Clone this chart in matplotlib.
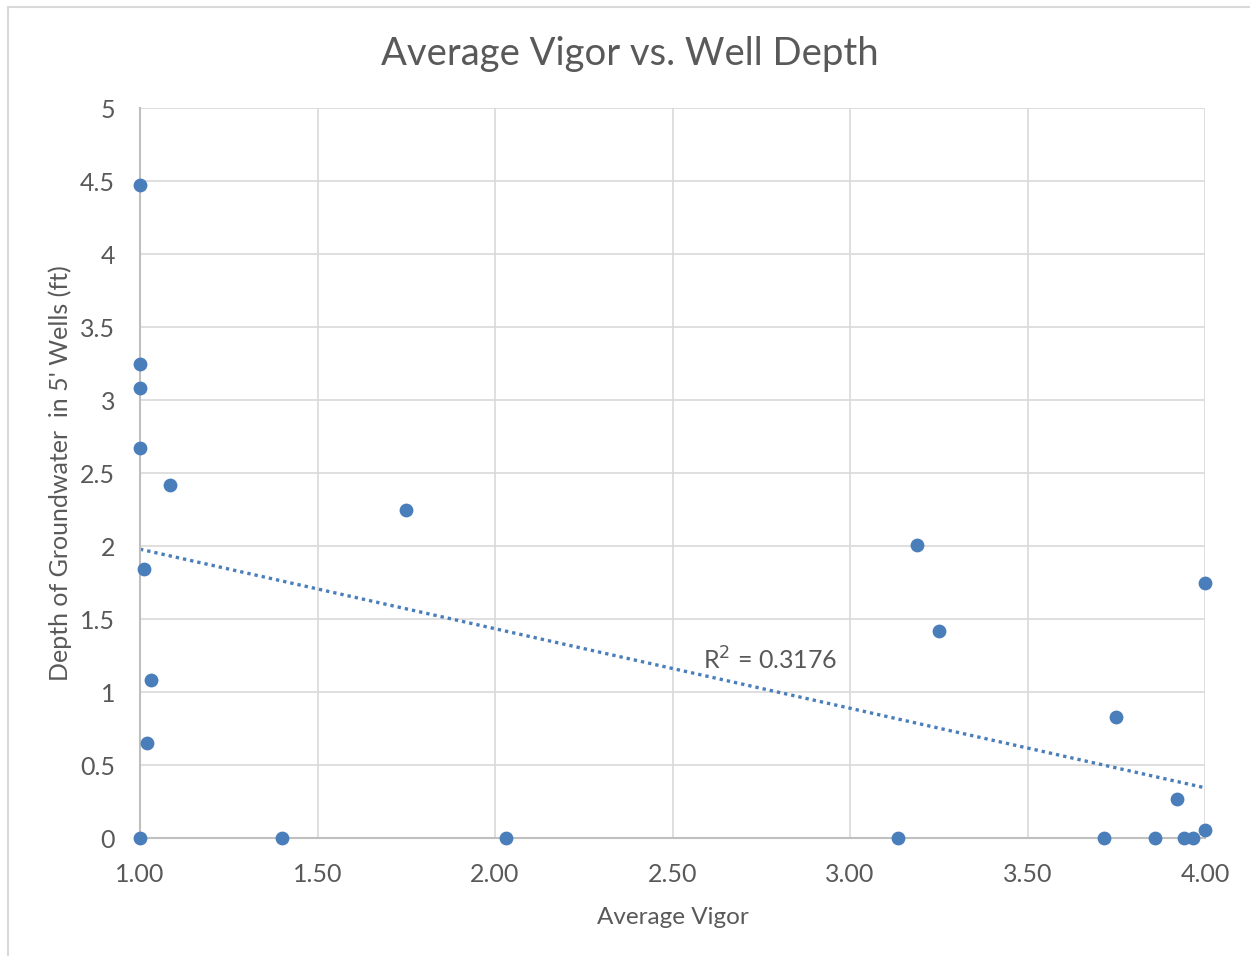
import numpy as np
import matplotlib.pyplot as plt
from matplotlib.patches import Rectangle

# average vigor vs depth of groundwater
vigor = [1.00, 1.00, 1.00, 1.00, 1.085, 1.01, 1.03, 1.02, 1.00, 1.40, 1.75, 2.03,
         3.135, 3.19, 3.25, 3.715, 3.75, 3.86, 3.92, 3.94, 3.965, 4.00, 4.00]
depth = [4.47, 3.25, 3.08, 2.67, 2.42, 1.84, 1.08, 0.65, 0.0, 0.0, 2.25, 0.0,
         0.0, 2.01, 1.42, 0.0, 0.83, 0.0, 0.27, 0.0, 0.0, 0.055, 1.75]
r2_label = "R$^2$ = 0.3176"
x_ticks = [1.0, 1.5, 2.0, 2.5, 3.0, 3.5, 4.0]
y_ticks = [0, 0.5, 1, 1.5, 2, 2.5, 3, 3.5, 4, 4.5, 5]

blue = '#4a7ebb'
grey_text = '#595959'
grid_col = '#d9d9d9'

plt.rcParams['font.family'] = ['Lato', 'DejaVu Sans']

fig = plt.figure(figsize=(12.5, 9.56), dpi=100)
ax = fig.add_axes([0.112, 0.1234, 0.852, 0.7636])

# linear trendline
slope, intercept = np.polyfit(vigor, depth, 1)
xs = np.array([min(vigor), max(vigor)])
ax.plot(xs, slope * xs + intercept, linestyle=(0, (1, 1.2)), color=blue, linewidth=2.4, zorder=2)

ax.scatter(vigor, depth, s=80, color=blue, zorder=3, clip_on=False)

ax.set_xlim(1.0, 4.0)
ax.set_ylim(0, 5)
ax.set_xticks(x_ticks)
ax.set_xticklabels([f'{t:.2f}' for t in x_ticks])
ax.set_yticks(y_ticks)
ax.set_yticklabels([f'{t:g}' for t in y_ticks])
ax.tick_params(length=0, labelsize=18, labelcolor=grey_text)
ax.tick_params(axis='x', pad=18)
ax.tick_params(axis='y', pad=18)

ax.grid(True, color=grid_col, linewidth=1.2)
ax.set_axisbelow(True)
for s in ['top', 'right']:
    ax.spines[s].set_visible(False)
for s in ['left', 'bottom']:
    ax.spines[s].set_color('#bfbfbf')
    ax.spines[s].set_linewidth(1.5)

ax.set_xlabel('Average Vigor', fontsize=17.5, color=grey_text, labelpad=15)
ax.set_ylabel("Depth of Groundwater  in 5' Wells (ft)", fontsize=18, color=grey_text, labelpad=6)
fig.text(0.504, 0.944, 'Average Vigor vs. Well Depth', fontsize=27.5, color=grey_text,
         ha='center', va='center')

ax.text(2.585, 1.22, r2_label, fontsize=18, color=grey_text, va='center')

# chart border
fig.patches.append(Rectangle((0.006, -0.01), 1.2, 1.003, transform=fig.transFigure,
                             fill=False, edgecolor='#d9d9d9', linewidth=1.5))

fig.savefig('out.png', dpi=100)
